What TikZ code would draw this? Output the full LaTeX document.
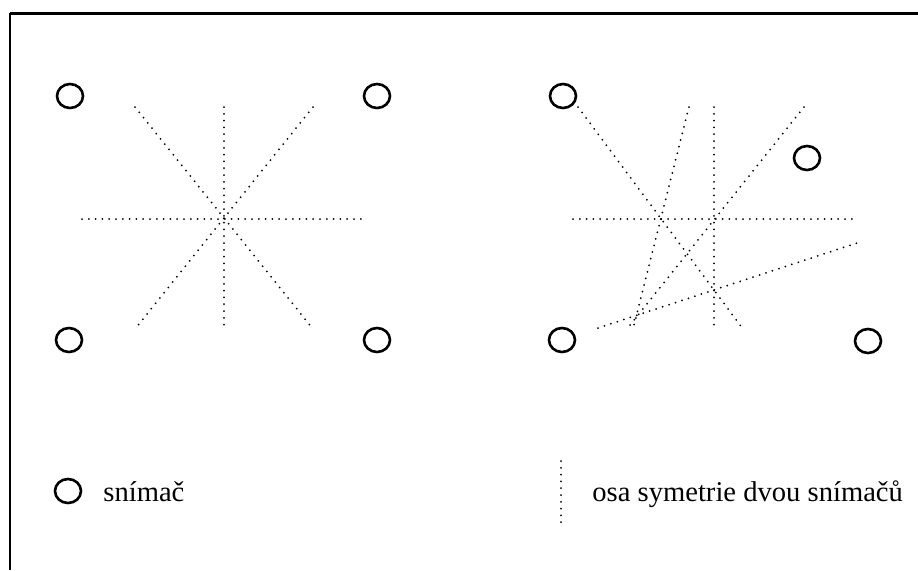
\documentclass[tikz,border=0pt]{standalone}
\usepackage{fontspec}
\setmainfont{Liberation Serif}
\usetikzlibrary{positioning,shapes.geometric}

\tikzset{
    sensor/.style={draw,ellipse,line width=1.3pt,minimum width=13pt,minimum height=12pt,inner sep=0pt},
    axis/.style={line width=1pt,line cap=round,dash pattern=on 0pt off 3.4pt},
    label/.style={inner sep=0pt,anchor=base west,font=\fontsize{14.3}{17}\selectfont}
}

\begin{document}
\begin{tikzpicture}[x=0.5pt,y=-0.5pt]
\useasboundingbox (0,0) rectangle (918,570);
\draw[line width=1pt] (10,570) -- (10,13);
\draw[line width=1.5pt] (10,13) -- (918,13);

% left: four sensors, all axes through one point
\node[sensor] (l1) at (70,96) {};
\node[sensor] (l2) at (377,96) {};
\node[sensor] (l3) at (69,340) {};
\node[sensor] (l4) at (377,340) {};
\draw[axis] (82,219) -- (367,219);
\draw[axis] (224,107) -- (224,329);
\draw[axis] (135,107) -- (313,329);
\draw[axis] (313,107) -- (135,329);

% right: one sensor moved
\node[sensor] (r1) at (563,96) {};
\node[sensor] (r2) at (807,158) {};
\node[sensor] (r3) at (562,340) {};
\node[sensor] (r4) at (868,341) {};
\draw[axis] (573,219) -- (857,219);
\draw[axis] (714,107) -- (714,329);
\draw[axis] (578,107) -- (743,329);
\draw[axis] (689,107) -- (633,329);
\draw[axis] (804,107) -- (627,329);
\draw[axis] (598,328) -- (857,243);

% legend
\node[sensor] (k) at (68,491) {};
\node[label] (kt) at (103,501) {snímač};
\coordinate (o1) at (561,461);
\coordinate (o2) at (561,523);
\draw[axis] (o1) -- (o2);
\node[label] (ot) at (592,501) {osa symetrie dvou snímačů};
\end{tikzpicture}
\end{document}
